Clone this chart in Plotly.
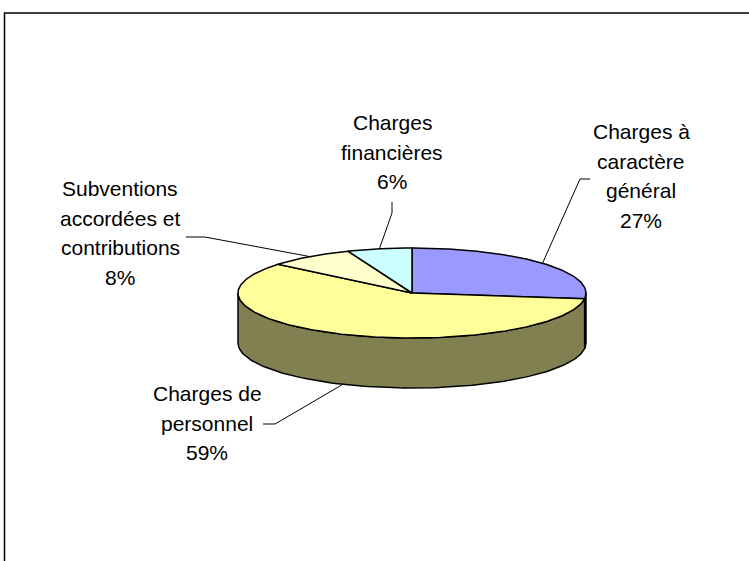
import numpy as np
import plotly.graph_objects as go

# ---- data ----
labels = ["Charges à<br>caractère<br>général", "Charges de<br>personnel",
          "Subventions<br>accordées et<br>contributions", "Charges<br>financières"]
values = [27, 59, 8, 6]
top_colors = ["#9999FF", "#FFFF99", "#FFFFCC", "#CCFFFF"]
side_colors = ["#4D4D80", "#808050", "#80805F", "#5F8080"]

# ---- layout constants (pixels) ----
W, H = 749, 561
cx, cy, a, b, depth = 412, 293, 174, 45, 50
label_pos = [(641, 176), (207, 423), (120, 233), (392, 152)]
line_gap = 29.5
label_elbow = [[(580, 179), (590, 179)], [(275, 424), (263, 424)],
               [(205, 237), (186, 237)], [(392, 213), (392, 202)]]

fig = go.Figure()

total = sum(values)
cum = np.cumsum([0] + values) / total
starts = 90 - cum[:-1] * 360
ends = 90 - cum[1:] * 360


def pt(theta_deg, dz=0.0):
    t = np.radians(theta_deg)
    return cx + a * np.cos(t), cy - b * np.sin(t) + dz


# side walls (front half only)
for i in range(len(values)):
    hi, lo = starts[i], ends[i]
    for k in range(-2, 2):
        flo, fhi = -180 + 360 * k, 360 * k
        s, e = max(lo, flo), min(hi, fhi)
        if e - s > 0.01:
            th = np.linspace(s, e, 120)
            xt, yt = pt(th)
            xb, yb = pt(th[::-1], depth)
            xs = np.concatenate([xt, xb, xt[:1]])
            ys = np.concatenate([yt, yb, yt[:1]])
            fig.add_trace(go.Scatter(x=xs, y=ys, mode="lines", fill="toself",
                                     fillcolor=side_colors[i],
                                     line=dict(color="black", width=1.5),
                                     hoverinfo="skip", showlegend=False))

# top slices
for i in range(len(values)):
    th = np.linspace(starts[i], ends[i], 200)
    xa, ya = pt(th)
    xs = np.concatenate([[cx], xa, [cx]])
    ys = np.concatenate([[cy], ya, [cy]])
    fig.add_trace(go.Scatter(x=xs, y=ys, mode="lines", fill="toself",
                             fillcolor=top_colors[i],
                             line=dict(color="black", width=1.5),
                             hoverinfo="skip", showlegend=False))

# leader lines and labels
for i in range(len(values)):
    mid = (starts[i] + ends[i]) / 2
    front = np.sin(np.radians(mid)) < 0
    mx, my = pt(mid, depth if front else 0)
    xs = [mx] + [p[0] for p in label_elbow[i]]
    ys = [my] + [p[1] for p in label_elbow[i]]
    fig.add_trace(go.Scatter(x=xs, y=ys, mode="lines",
                             line=dict(color="black", width=1),
                             hoverinfo="skip", showlegend=False))
    pct = round(values[i] / total * 100)
    lines = labels[i].split("<br>") + [f"{pct}%"]
    n = len(lines)
    for j, ln in enumerate(lines):
        fig.add_annotation(x=label_pos[i][0],
                           y=label_pos[i][1] + (j - (n - 1) / 2) * line_gap,
                           xref="x", yref="y", text=ln, showarrow=False,
                           font=dict(family="Liberation Sans, Arial", size=21, color="black"),
                           align="center", xanchor="center", yanchor="middle")

# chart frame
fig.add_shape(type="rect", x0=4.5, y0=13, x1=W + 10, y1=H + 10, xref="x", yref="y",
              line=dict(color="black", width=1.5), fillcolor="rgba(0,0,0,0)", layer="below")

fig.update_layout(width=W, height=H, margin=dict(l=0, r=0, t=0, b=0),
                  paper_bgcolor="white", plot_bgcolor="white",
                  xaxis=dict(range=[0, W], visible=False, fixedrange=True),
                  yaxis=dict(range=[H, 0], visible=False, fixedrange=True))

fig.write_html("out.html")
